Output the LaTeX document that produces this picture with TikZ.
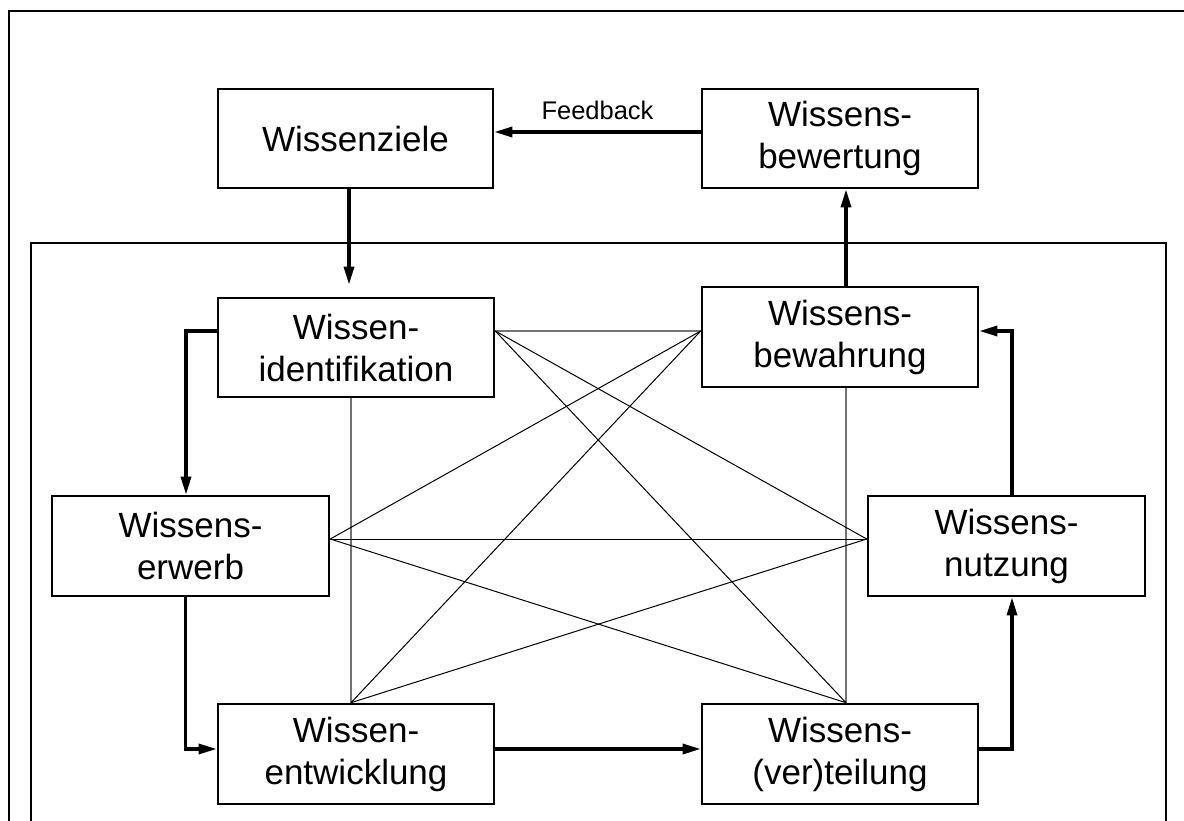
\documentclass[tikz,border=0pt]{standalone}
\usepackage{fontspec}
\setmainfont{Liberation Sans}
\usetikzlibrary{arrows.meta}

\begin{document}
\begin{tikzpicture}[x=1pt, y=-1pt,
  stage/.style={draw, line width=2.6pt, inner sep=0pt, align=center,
    minimum width=276pt, minimum height=100pt,
    font=\fontsize{35}{42}\selectfont},
  flow/.style={line width=3.2pt, -{Triangle[length=18pt,width=10pt]}},
  link/.style={line width=1pt, black},
  glink/.style={line width=1.1pt, black!55},
  frame/.style={line width=2.4pt}]
  \useasboundingbox (0,0) rectangle (1184,821);

  % enclosing frames
  \draw[frame] (9,821) -- (9,11) -- (1184,11);
  \draw[frame] (31,821) -- (31,243) -- (1166,243) -- (1166,821);

  % stages
  \node[stage, minimum width=275pt, minimum height=99pt] (Z) at (355.5,138.5) {Wissenziele};
  \node[stage, minimum height=99pt] (V) at (840,138.5) {Wissens-\\bewertung};
  \node[stage, minimum height=99pt] (I) at (356,347.5) {Wissen-\\identifikation};
  \node[stage] (B) at (840,337) {Wissens-\\bewahrung};
  \node[stage, minimum width=277pt] (E) at (190.5,546) {Wissens-\\erwerb};
  \node[stage, minimum width=277pt] (N) at (1006.5,546) {Wissens-\\nutzung};
  \node[stage] (D) at (356,754) {Wissen-\\entwicklung};
  \node[stage] (T) at (840,754) {Wissens-\\(ver)teilung};

  % attachment points of the cross links
  \coordinate (pI) at ([yshift=16.5pt]I.east);
  \coordinate (pB) at ([yshift=6pt]B.west);
  \coordinate (pE) at ([yshift=7pt]E.east);
  \coordinate (pN) at ([yshift=7pt]N.west);
  \coordinate (pD) at ([xshift=-5pt]D.north);
  \coordinate (pT) at ([xshift=6pt]T.north);
  \coordinate (pIb) at ([xshift=-5pt]I.south);
  \coordinate (pBb) at ([xshift=6pt]B.south);

  % cross links
  \draw[glink] (pI) -- (pB);
  \draw[glink] (pIb) -- (pD);
  \draw[glink] (pBb) -- (pT);
  \draw[link] (pI) -- (pN);
  \draw[link] (pI) -- (pT);
  \draw[link] (pB) -- (pE);
  \draw[link] (pB) -- (pD);
  \draw[link] (pE) -- (pN);
  \draw[link] (pE) -- (pT);
  \draw[link] (pN) -- (pD);

  % main cycle
  \draw[flow, shorten >=12pt] ([xshift=-6.5pt]Z.south) -- ([xshift=-7pt]I.north);
  \draw[flow] ([yshift=16.5pt]I.west) -| ([xshift=-4.5pt]E.north);
  \draw[flow] ([xshift=-5pt]E.south) |- ([yshift=5pt]D.west);
  \draw[flow] ([yshift=5pt]D.east) -- ([yshift=5pt]T.west);
  \draw[flow] ([yshift=5pt]T.east) -| ([xshift=5.5pt]N.south);
  \draw[flow] ([xshift=5.5pt]N.north) |- ([yshift=6pt]B.east);
  \draw[flow] ([xshift=6pt]B.north) -- ([xshift=6pt]V.south);
  \draw[flow] ([yshift=6.5pt]V.west) -- node[above=11pt, inner sep=0pt,
    font=\fontsize{25.5}{30}\selectfont] {Feedback} ([yshift=6.5pt]Z.east);
\end{tikzpicture}
\end{document}
